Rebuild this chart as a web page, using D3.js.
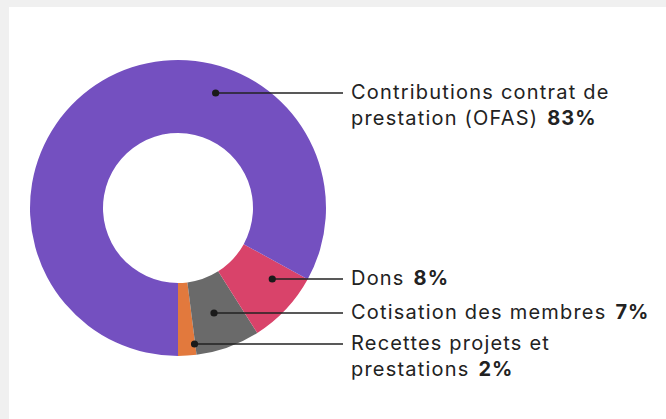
<!DOCTYPE html>
<html>
<head>
<meta charset="utf-8">
<script src="https://cdn.jsdelivr.net/npm/d3@7"></script>
<style>
  html, body { margin: 0; padding: 0; background: #f0f0f0; }
  svg { display: block; }
  .label { font-family: Inter, "Noto Sans", sans-serif; font-size: 20px; fill: #222; letter-spacing: 1.2px; }
  .label .pct { font-weight: 700; letter-spacing: 1px; }
</style>
</head>
<body>
<svg id="chart" width="666" height="419"></svg>
<script>
//

// slices, in drawing order starting from 6 o'clock going counter-clockwise
const categories = ['Recettes projets et prestations', 'Cotisation des membres', 'Dons', 'Contributions contrat de prestation (OFAS)']
const values = [2, 7, 8, 83]
const labelLines = [
  ['Recettes projets et', 'prestations'],
  ['Cotisation des membres'],
  ['Dons'],
  ['Contributions contrat de', 'prestation (OFAS)']
]
const colors = ['#e2793d', '#6a6a6a', '#d9436a', '#7450c0']

// layout
const width = 666
const height = 419
const cx = 178
const cy = 208
const outerR = 148
const innerR = 75
const labelX = 351
const lineEndX = 343
const lineY = [344, 313, 279, 93]
const dotR = [137, 111, 118, 121]
const lineHeight = 26

//

const svg = d3.select('#chart')

svg.append('rect')
  .attr('x', 9)
  .attr('y', 7)
  .attr('width', width - 9)
  .attr('height', height - 7)
  .attr('fill', '#fff')

const pie = d3.pie()
  .sort(null)
  .startAngle(Math.PI)
  .endAngle(-Math.PI)

const arc = d3.arc()
  .innerRadius(innerR)
  .outerRadius(outerR)

const arcs = pie(values)

const g = svg.append('g')
  .attr('transform', `translate(${cx},${cy})`)

g.selectAll('path.slice')
  .data(arcs)
  .join('path')
  .attr('class', 'slice')
  .attr('d', arc)
  .attr('fill', (d, i) => colors[i])

// leader lines + dots
const dots = arcs.map((d, i) => {
  const dy = lineY[i] - cy
  const dx = Math.sqrt(Math.max(0, dotR[i] * dotR[i] - dy * dy))
  return { x: cx + dx, y: lineY[i] }
})

svg.selectAll('line.leader')
  .data(dots)
  .join('line')
  .attr('class', 'leader')
  .attr('x1', (d) => d.x)
  .attr('y1', (d) => d.y)
  .attr('x2', lineEndX)
  .attr('y2', (d) => d.y)
  .attr('stroke', '#222')
  .attr('stroke-width', 1.3)

svg.selectAll('circle.dot')
  .data(dots)
  .join('circle')
  .attr('class', 'dot')
  .attr('cx', (d) => d.x)
  .attr('cy', (d) => d.y)
  .attr('r', 3.6)
  .attr('fill', '#1a1a1a')

// labels
labelLines.forEach((lines, i) => {
  const text = svg.append('text')
    .attr('class', 'label')
    .attr('x', labelX)
    .attr('y', lineY[i] + 5.5)
  lines.forEach((line, j) => {
    text.append('tspan')
      .attr('x', labelX)
      .attr('dy', j === 0 ? 0 : lineHeight)
      .text(line)
    if (j === lines.length - 1) {
      text.append('tspan')
        .attr('class', 'pct')
        .attr('dx', 9)
        .text(values[i] + '%')
    }
  })
})
</script>
</body>
</html>
